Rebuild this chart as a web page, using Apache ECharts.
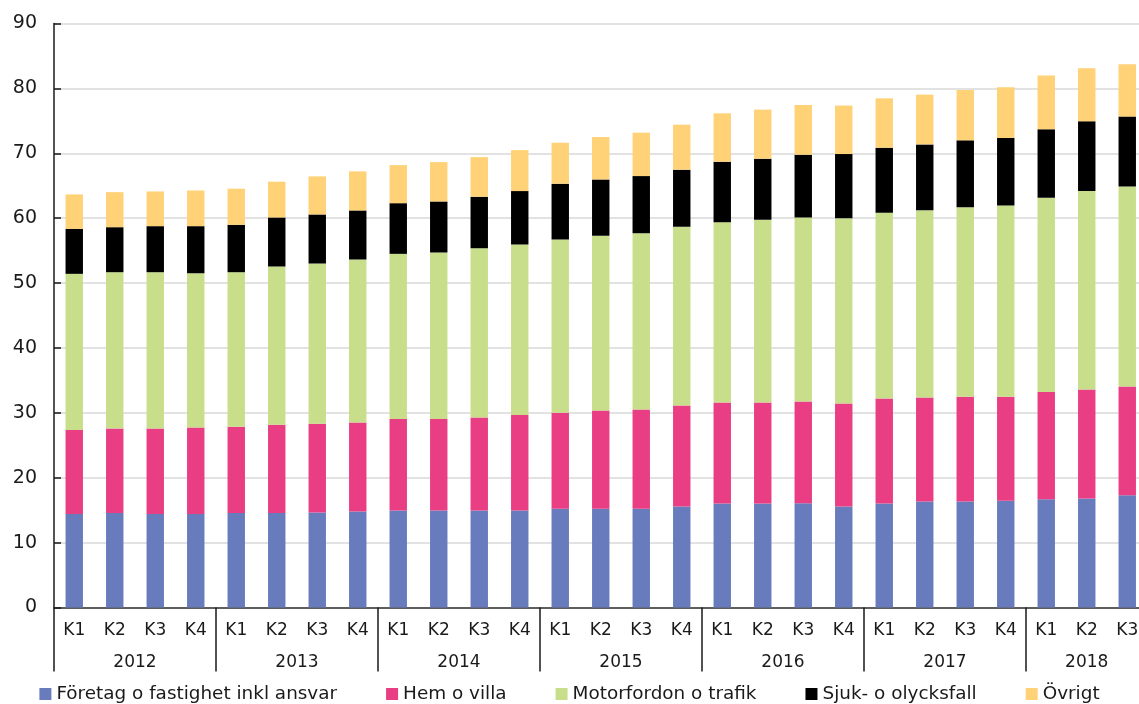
<!DOCTYPE html>
<html>
<head>
<meta charset="utf-8">
<style>
  html, body { margin: 0; padding: 0; background: #fff; }
  #main { width: 1139px; height: 704px; }
</style>
<script src="https://cdn.jsdelivr.net/npm/echarts@6/dist/echarts.min.js"></script>
</head>
<body>
<div id="main"></div>
<script>
// kvartal och år
const quarters = ['K1','K2','K3','K4','K1','K2','K3','K4','K1','K2','K3','K4','K1','K2','K3','K4',
  'K1','K2','K3','K4','K1','K2','K3','K4','K1','K2','K3'];
const years = ['2012', '2013', '2014', '2015', '2016', '2017', '2018'];
const quartersPerYear = [4, 4, 4, 4, 4, 4, 3];

const seriesNames = ['Företag o fastighet inkl ansvar', 'Hem o villa', 'Motorfordon o trafik', 'Sjuk- o olycksfall', 'Övrigt'];

const foretag = [14.4, 14.55, 14.4, 14.4, 14.55, 14.55, 14.63, 14.78, 14.94, 14.94, 14.94, 14.94, 15.2, 15.2,
  15.2, 15.56, 16.02, 16.02, 16.08, 15.56, 16.02, 16.33, 16.33, 16.44, 16.7, 16.79, 17.31];
const hem = [12.95, 13.05, 13.2, 13.35, 13.3, 13.61, 13.69, 13.74, 14.1, 14.1, 14.35, 14.72, 14.82, 15.17,
  15.33, 15.58, 15.58, 15.58, 15.68, 15.89, 16.2, 16.05, 16.15, 16.04, 16.51, 16.82, 16.76];
const motor = [24.07, 24.07, 24.07, 23.76, 23.82, 24.39, 24.69, 25.11, 25.46, 25.67, 26.08, 26.28, 26.69, 26.91,
  27.15, 27.53, 27.78, 28.15, 28.35, 28.55, 28.61, 28.85, 29.22, 29.48, 29.94, 30.56, 30.82];
const sjuk = [6.94, 6.94, 7.1, 7.26, 7.31, 7.56, 7.56, 7.56, 7.81, 7.87, 7.93, 8.23, 8.6, 8.69,
  8.8, 8.8, 9.32, 9.42, 9.67, 9.88, 10.03, 10.14, 10.29, 10.39, 10.54, 10.75, 10.76];
const ovrigt = [5.3, 5.4, 5.35, 5.5, 5.56, 5.51, 5.87, 6.02, 5.87, 6.06, 6.11, 6.32, 6.32, 6.53,
  6.7, 6.94, 7.46, 7.56, 7.66, 7.47, 7.61, 7.67, 7.76, 7.82, 8.29, 8.18, 8.07];

const colors = ['#687bbd', '#e93e83', '#c8de8a', '#000000', '#ffd277'];
const fontFam = '"DejaVu Sans", Verdana, sans-serif';
const textColor = '#1a1a1a';

// årsetiketter i mitten av varje grupp
let yearPos = {};
let start = 0;
quartersPerYear.forEach((n, i) => {
  yearPos[(start + n / 2).toFixed(1)] = years[i];
  start += n;
});

let myChart = echarts.init(document.getElementById('main'));
let option = {
  animation: false,
  color: colors,
  grid: {
    left: 54,
    top: 23.5,
    width: 1093.5,
    height: 584,
    containLabel: false,
    outerBoundsMode: 'none'
  },
  legend: {
    data: seriesNames,
    left: 'center',
    top: 680,
    itemWidth: 12,
    itemHeight: 12,
    itemGap: 49,
    icon: 'rect',
    textStyle: { fontFamily: fontFam, fontSize: 18.4, color: textColor }
  },
  xAxis: [
    {
      type: 'category',
      data: quarters,
      axisLine: { lineStyle: { color: '#333', width: 1.5 } },
      axisTick: {
        show: true,
        length: 64,
        interval: (index) => index % 4 === 0,
        lineStyle: { color: '#1a1a1a', width: 1.5 }
      },
      axisLabel: { interval: 0, margin: 15, fontFamily: fontFam, fontSize: 17, color: textColor }
    },
    {
      type: 'value',
      position: 'bottom',
      offset: 38,
      min: 0,
      max: quarters.length,
      interval: 0.5,
      axisLine: { show: false },
      axisTick: { show: false },
      splitLine: { show: false },
      axisLabel: {
        margin: 9,
        fontFamily: fontFam,
        fontSize: 17,
        color: textColor,
        formatter: (v) => yearPos[v.toFixed(1)] || ''
      }
    }
  ],
  yAxis: {
    type: 'value',
    min: 0,
    max: 90,
    interval: 10,
    axisLine: { show: true, lineStyle: { color: '#1a1a1a', width: 1.5 } },
    axisTick: { show: true, inside: true, length: 7, lineStyle: { color: '#1a1a1a', width: 1.5 } },
    axisLabel: { margin: 17, fontFamily: fontFam, fontSize: 19, color: textColor },
    splitLine: { lineStyle: { color: '#d9d9d9', width: 1.5 } }
  },
  series: [
    { name: seriesNames[0], type: 'bar', stack: 'tot', barWidth: '43%', data: foretag },
    { name: seriesNames[1], type: 'bar', stack: 'tot', barWidth: '43%', data: hem },
    { name: seriesNames[2], type: 'bar', stack: 'tot', barWidth: '43%', data: motor },
    { name: seriesNames[3], type: 'bar', stack: 'tot', barWidth: '43%', data: sjuk },
    { name: seriesNames[4], type: 'bar', stack: 'tot', barWidth: '43%', data: ovrigt }
  ]
};
myChart.setOption(option);
</script>
</body>
</html>
